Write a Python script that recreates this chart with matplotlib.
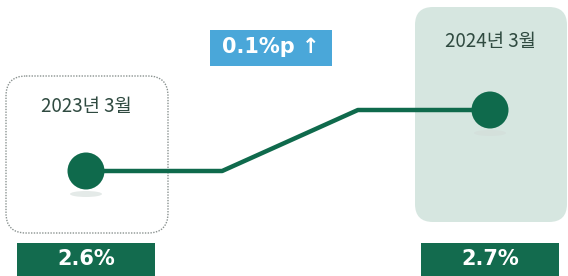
import matplotlib
matplotlib.use("Agg")
import matplotlib.pyplot as plt
from matplotlib.patches import FancyBboxPatch, Ellipse, Rectangle

plt.rcParams['font.family'] = ['Noto Sans CJK KR', 'DejaVu Sans']

# data
periods = ["2023년 3월", "2024년 3월"]
values = [2.6, 2.7]
value_labels = ["2.6%", "2.7%"]
change_label = "0.1%p ↑"

W, H = 568, 276
fig = plt.figure(figsize=(W / 100, H / 100), dpi=100)
bg = fig.add_axes([0, 0, 1, 1])
bg.set_xlim(0, W)
bg.set_ylim(H, 0)
bg.axis("off")

GREEN = "#0f6a4c"
# background boxes (pixel coords)
left_box = FancyBboxPatch((6, 76), 162, 157, boxstyle="round,pad=0,rounding_size=20",
                          fill=False, ec="#8a9290", lw=1.0, ls=(0, (1, 1)))
bg.add_patch(left_box)
right_box = FancyBboxPatch((415, 7), 152, 215, boxstyle="round,pad=0,rounding_size=18",
                           fc="#d6e6e0", ec="none")
bg.add_patch(right_box)

# data axes overlay
ax = fig.add_axes([0, 0, 1, 1])
ax.axis("off")
px0, px1 = 86, 490  # pixel x of categories
py0, py1 = 171, 110  # pixel y of values
sx = (px1 - px0) / (len(values) - 1)
ax.set_xlim(-px0 / sx, (W - px0) / sx)
sy = (values[1] - values[0]) / (py0 - py1)
ax.set_ylim(values[0] - (H - py0) * sy, values[0] + py0 * sy)

xs = list(range(len(values)))
# step-like connector
ex1, ex2 = 0.337, 0.673
ax.plot([xs[0], ex1, ex2, xs[1]], [values[0], values[0], values[1], values[1]],
        color=GREEN, lw=3.2, solid_capstyle="butt", zorder=3)
# reflections
for x, v in zip(xs, values):
    ax.add_patch(Ellipse((x, v - 23 * sy), 32 / sx, 6 * sy, fc="#d3dcd9", ec="none",
                         alpha=0.6, zorder=2))
ax.scatter(xs, values, s=(37 * 0.72) ** 2, color=GREEN, zorder=4, edgecolors="none")

# period labels
for x, lab, py in zip(xs, periods, [107, 42]):
    ax.text(x, values[0] + (py0 - py) * sy, lab, ha="center", va="center",
            fontsize=13.5, color="#2f4a40")

# value boxes
for cx, lab in zip([86, 490], value_labels):
    bg.add_patch(Rectangle((cx - 69, 243), 138, 40, fc="#136b4e", ec="none"))
    bg.text(cx, 259, lab, ha="center", va="center", fontsize=15, fontweight="bold",
            color="white", family=["DejaVu Sans"])

# change badge
bg.add_patch(Rectangle((210, 30), 122, 36, fc="#4aa7d9", ec="none"))
bg.text(271, 47, change_label, ha="center", va="center", fontsize=15,
        fontweight="bold", color="white", family=["DejaVu Sans"])

fig.savefig("out.png", dpi=100)
